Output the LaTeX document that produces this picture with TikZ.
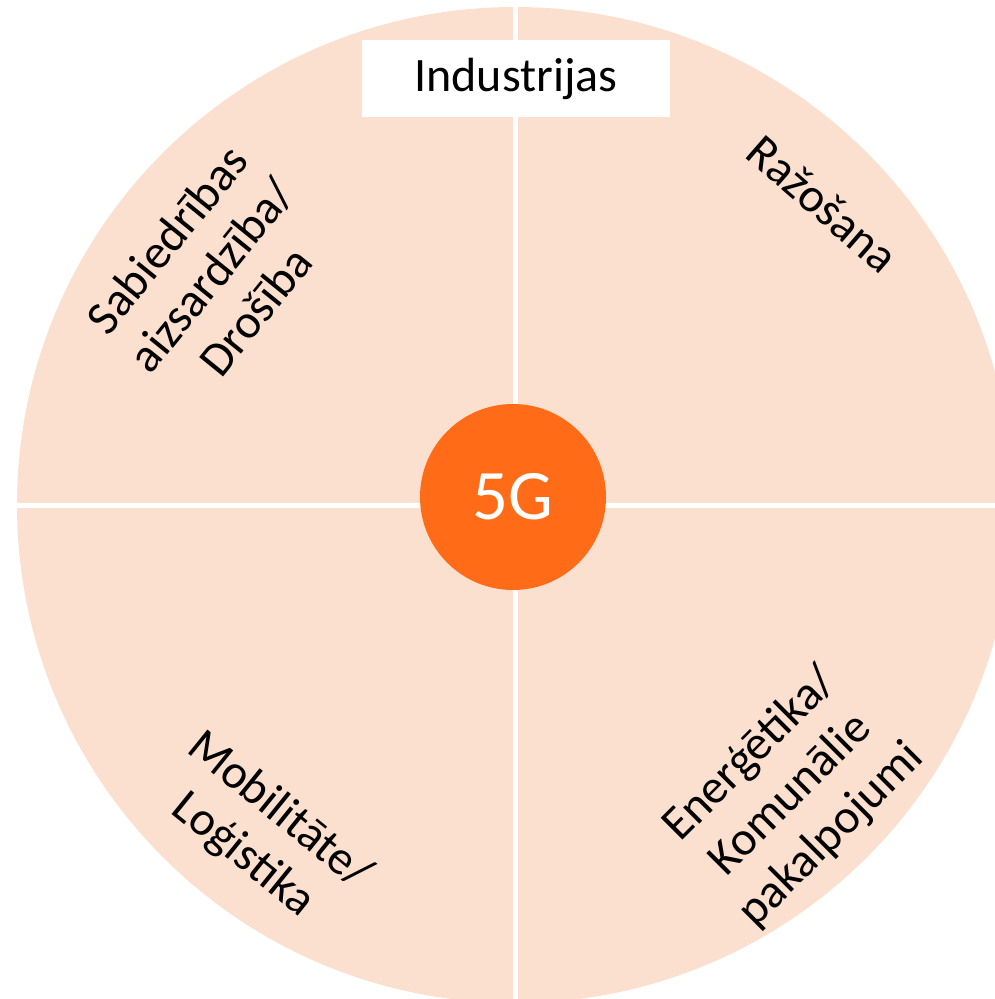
\documentclass[tikz,border=0pt]{standalone}
\usepackage{fontspec}
\setmainfont{Carlito}
\definecolor{peach}{HTML}{FCE0CF}
\definecolor{brandorange}{HTML}{FF6B16}
\begin{document}
\begin{tikzpicture}[x=1pt,y=-1pt,
  sector/.style={font=\fontsize{48}{57}\selectfont, align=center, text=black, inner sep=0pt},
  divider/.style={draw=white, line width=5pt}]
\useasboundingbox (0,0) rectangle (995,999);
\clip (0,0) rectangle (995,999);
\fill[peach] (515,505) circle[radius=498];
\coordinate (top) at (515,0);
\coordinate (bottom) at (515,1010);
\coordinate (left) at (0,505);
\coordinate (right) at (1010,505);
\draw[divider] (top) -- (bottom);
\draw[divider] (left) -- (right);
\node[fill=white, minimum width=308pt, minimum height=77pt, inner sep=0pt,
      font=\fontsize{48}{57}\selectfont] (title) at (516,78.5) {Industrijas};
\node[circle, fill=brandorange, minimum size=186pt, inner sep=0pt, text=white,
      font=\fontsize{71}{80}\selectfont] (core) at (513,497) {5G};
\node[sector, rotate=51] (safety) at (211,275) {Sabiedrības\\aizsardzība/\\Drošība};
\node[sector, rotate=-41] (manufacturing) at (823,204) {Ražošana};
\node[sector, rotate=45] (energy) at (791,795) {Enerģētika/\\Komunālie\\pakalpojumi};
\node[sector, rotate=-39] (mobility) at (261,833) {Mobilitāte/\\Loģistika};
\end{tikzpicture}
\end{document}
